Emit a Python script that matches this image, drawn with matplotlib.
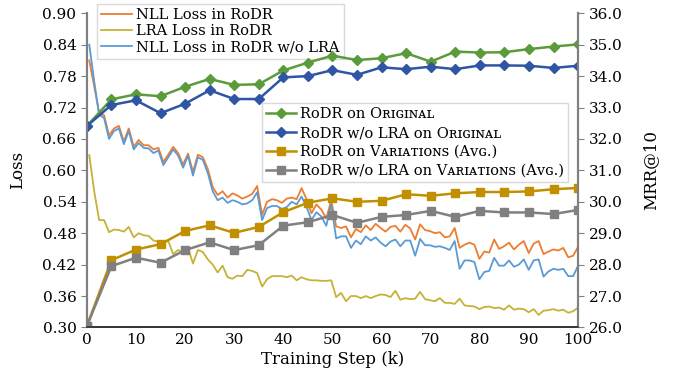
import numpy as np
import matplotlib
matplotlib.use("Agg")
from matplotlib import pyplot as plt

plt.rcParams['font.family'] = ['DejaVu Serif', 'DejaVu Sans']

# Loss curves (left axis), read off roughly every 1k steps
loss_steps = np.linspace(0.5, 100, 100)
nll_rodr = [
    0.810, 0.760, 0.710, 0.705, 0.667, 0.680, 0.685, 0.655, 0.680, 0.645,
    0.658, 0.648, 0.648, 0.640, 0.643, 0.616, 0.630, 0.645, 0.633, 0.611,
    0.632, 0.597, 0.630, 0.625, 0.603, 0.568, 0.553, 0.560, 0.548, 0.556,
    0.552, 0.546, 0.550, 0.555, 0.570, 0.515, 0.540, 0.545, 0.543, 0.538,
    0.546, 0.548, 0.545, 0.566, 0.545, 0.518, 0.535, 0.525, 0.508, 0.543,
    0.493, 0.490, 0.493, 0.472, 0.488, 0.482, 0.495, 0.486, 0.498, 0.490,
    0.483, 0.492, 0.494, 0.483, 0.496, 0.489, 0.468, 0.497, 0.486, 0.484,
    0.480, 0.482, 0.472, 0.474, 0.490, 0.452, 0.458, 0.462, 0.458, 0.431,
    0.445, 0.443, 0.468, 0.450, 0.455, 0.462, 0.449, 0.458, 0.465, 0.442,
    0.460, 0.465, 0.440, 0.445, 0.449, 0.447, 0.452, 0.434, 0.437, 0.454,
]
lra_rodr = [
    0.629, 0.560, 0.505, 0.505, 0.482, 0.487, 0.486, 0.483, 0.492, 0.472,
    0.480, 0.476, 0.475, 0.466, 0.464, 0.462, 0.465, 0.440, 0.448, 0.443,
    0.452, 0.422, 0.448, 0.444, 0.430, 0.420, 0.405, 0.418, 0.396, 0.393,
    0.399, 0.398, 0.410, 0.408, 0.404, 0.378, 0.392, 0.398, 0.398, 0.398,
    0.396, 0.399, 0.390, 0.396, 0.392, 0.390, 0.390, 0.389, 0.389, 0.390,
    0.358, 0.366, 0.350, 0.360, 0.360, 0.356, 0.360, 0.356, 0.360, 0.363,
    0.362, 0.358, 0.370, 0.353, 0.356, 0.354, 0.355, 0.368, 0.354, 0.352,
    0.350, 0.356, 0.347, 0.347, 0.345, 0.355, 0.342, 0.341, 0.340, 0.335,
    0.339, 0.340, 0.337, 0.338, 0.334, 0.342, 0.334, 0.336, 0.335, 0.329,
    0.335, 0.324, 0.332, 0.333, 0.335, 0.332, 0.334, 0.328, 0.331, 0.338,
]
nll_wo_lra = [
    0.840, 0.770, 0.706, 0.700, 0.660, 0.675, 0.680, 0.650, 0.675, 0.640,
    0.652, 0.643, 0.642, 0.633, 0.638, 0.610, 0.625, 0.640, 0.628, 0.605,
    0.628, 0.590, 0.625, 0.620, 0.595, 0.560, 0.543, 0.548, 0.538, 0.543,
    0.540, 0.535, 0.537, 0.543, 0.558, 0.505, 0.528, 0.532, 0.532, 0.526,
    0.530, 0.540, 0.535, 0.550, 0.530, 0.505, 0.520, 0.512, 0.494, 0.535,
    0.470, 0.474, 0.474, 0.452, 0.466, 0.459, 0.474, 0.466, 0.472, 0.462,
    0.455, 0.464, 0.468, 0.455, 0.466, 0.466, 0.437, 0.469, 0.457, 0.457,
    0.454, 0.455, 0.452, 0.448, 0.465, 0.412, 0.428, 0.428, 0.425, 0.392,
    0.406, 0.408, 0.433, 0.418, 0.418, 0.428, 0.416, 0.420, 0.430, 0.410,
    0.428, 0.430, 0.397, 0.407, 0.412, 0.410, 0.412, 0.398, 0.398, 0.418,
]

# MRR@10 (right axis), evaluated every 5k steps
eval_steps = list(range(0, 101, 5))
mrr_orig = [32.41, 33.26, 33.42, 33.36, 33.66, 33.91, 33.72, 33.74, 34.18, 34.43, 34.65,
            34.51, 34.57, 34.73, 34.46, 34.78, 34.75, 34.76, 34.86, 34.94, 35.01]
mrr_orig_wo = [32.41, 33.08, 33.23, 32.82, 33.12, 33.55, 33.27, 33.27, 33.96, 34.00, 34.19,
               34.04, 34.28, 34.22, 34.30, 34.22, 34.34, 34.34, 34.33, 34.26, 34.33]
mrr_var = [26.04, 28.14, 28.48, 28.65, 29.07, 29.25, 29.01, 29.20, 29.67, 29.97, 30.11,
           30.00, 30.03, 30.24, 30.19, 30.27, 30.31, 30.31, 30.33, 30.40, 30.44]
mrr_var_wo = [26.04, 27.95, 28.22, 28.06, 28.46, 28.71, 28.46, 28.62, 29.24, 29.35, 29.58,
              29.33, 29.52, 29.58, 29.71, 29.52, 29.71, 29.66, 29.66, 29.61, 29.74]

fig = plt.figure(figsize=(6.73, 3.79), dpi=100)
ax = fig.add_axes([0.129, 0.136, 0.730, 0.829])
ax2 = ax.twinx()

ax.plot(loss_steps, nll_rodr, color='#ED7D31', lw=1.3, label='NLL Loss in RoDR')
ax.plot(loss_steps, lra_rodr, color='#C6B236', lw=1.3, label='LRA Loss in RoDR')
ax.plot(loss_steps, nll_wo_lra, color='#5B9BD5', lw=1.3, label='NLL Loss in RoDR w/o LRA')

ax2.plot(eval_steps, mrr_orig, color='#5C9B3B', lw=1.8, marker='D', ms=5,
         label='RoDR on Oʀɪɢɪɴᴀʟ')
ax2.plot(eval_steps, mrr_orig_wo, color='#2F55A4', lw=1.8, marker='D', ms=5,
         label='RoDR w/o LRA on Oʀɪɢɪɴᴀʟ')
ax2.plot(eval_steps, mrr_var, color='#C09000', lw=1.8, marker='s', ms=6,
         label='RoDR on Vᴀʀɪᴀᴛɪᴏɴꜱ (Aᴠɢ.)')
ax2.plot(eval_steps, mrr_var_wo, color='#808080', lw=1.8, marker='s', ms=6,
         label='RoDR w/o LRA on Vᴀʀɪᴀᴛɪᴏɴꜱ (Aᴠɢ.)')

ax.set_xlim(0, 100)
ax.set_ylim(0.30, 0.90)
ax.set_yticks(np.arange(0.30, 0.91, 0.06))
ax.set_yticklabels(['%.2f' % v for v in np.arange(0.30, 0.91, 0.06)])
ax.set_xticks(range(0, 101, 10))
ax2.set_ylim(26, 36)
ax2.set_yticks(range(26, 37))
ax2.set_yticklabels(['%.1f' % v for v in range(26, 37)])

for a in (ax, ax2):
    a.spines['top'].set_visible(False)
    a.spines['left'].set_color('#808080')
    a.spines['right'].set_color('#808080')
    a.spines['left'].set_linewidth(1.5)
    a.spines['right'].set_linewidth(1.5)
    a.spines['bottom'].set_color('#333333')
    a.spines['bottom'].set_linewidth(1.2)
ax.tick_params(axis='x', length=0, labelsize=11, pad=4)
ax.tick_params(axis='y', length=4, color='#808080', labelsize=11)
ax2.tick_params(axis='y', length=4, color='#808080', labelsize=11)

ax.set_xlabel('Training Step (k)', fontsize=12, labelpad=3)
ax.set_ylabel('Loss', fontsize=12, labelpad=12)
ax2.set_ylabel('MRR@10', fontsize=12, labelpad=14)

leg1 = ax.legend(loc='upper left', bbox_to_anchor=(0.02, 1.03), borderaxespad=0,
                 fontsize=10.5, fancybox=False, framealpha=1, edgecolor='#D9D9D9',
                 handlelength=2.1, handletextpad=0.3, labelspacing=0.15, borderpad=0.3)
leg2 = ax2.legend(loc='upper right', bbox_to_anchor=(0.98, 0.714), borderaxespad=0,
                  fontsize=10.5, fancybox=False, framealpha=1, edgecolor='#D9D9D9',
                  handlelength=2.0, handletextpad=0.3, labelspacing=0.33, borderpad=0.3)

fig.savefig('out.png', dpi=100)
